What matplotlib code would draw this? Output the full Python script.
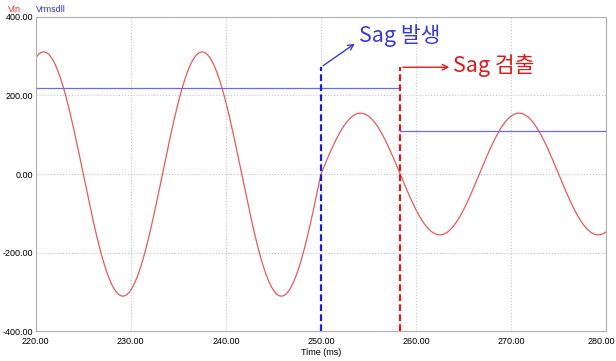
#!/usr/bin/env python3
import numpy as np
import matplotlib.pyplot as plt
from matplotlib.transforms import ScaledTranslation

plt.rcParams["font.family"] = ["Liberation Sans", "Noto Sans CJK KR", "DejaVu Sans"]

# simulation window (ms) and measured values
t_start, t_end = 220.0, 280.0
freq_hz = 60.0
vin_peak_normal = 311.0
vin_peak_sag = 155.0
sag_start_ms = 250.0
sag_detect_ms = 258.33
vrms_normal = 220.0
vrms_sag = 110.0
marker_top = 272.0

x_ticks = [220, 230, 240, 250, 260, 270, 280]
y_ticks = [-400, -200, 0, 200, 400]


def vin_wave(t):
    """Supply voltage: full amplitude until the sag, half after it"""
    amp = np.where(t < sag_start_ms, vin_peak_normal, vin_peak_sag)
    return amp * np.sin(2 * np.pi * freq_hz * (t - sag_start_ms) / 1000.0)


def main():
    fig = plt.figure(figsize=(6.16, 3.61), dpi=100)
    ax = fig.add_axes([0.058, 0.083, 0.926, 0.870])

    t = np.linspace(t_start, t_end, 3000)
    ax.plot(t, vin_wave(t), color="#e85a5a", lw=0.9)

    # rms estimate steps down once the sag is detected
    ax.plot([t_start, sag_detect_ms], [vrms_normal, vrms_normal], color="#6a6af0", lw=0.9)
    ax.plot([sag_detect_ms, t_end], [vrms_sag, vrms_sag], color="#6a6af0", lw=0.9)

    # event markers
    ax.plot([sag_start_ms, sag_start_ms], [-400, marker_top], color="#1a1ae0",
            lw=1.6, ls=(0, (3, 1.5)))
    ax.plot([sag_detect_ms, sag_detect_ms], [-400, marker_top], color="#e01a1a",
            lw=1.6, ls=(0, (3, 1.5)))

    kr = ["Noto Sans CJK KR", "DejaVu Sans"]
    ax.annotate("", xy=(253.8, 336), xytext=(sag_start_ms, marker_top),
                arrowprops=dict(arrowstyle="->", color="#3a3ad8", lw=1.0))
    ax.text(254.0, 352, "Sag 발생", color="#3a3ad8", fontsize=15.5,
            family=kr, va="center", ha="left")

    ax.annotate("", xy=(263.8, marker_top), xytext=(sag_detect_ms, marker_top),
                arrowprops=dict(arrowstyle="->", color="#e01a1a", lw=1.0))
    ax.text(263.9, marker_top + 4, "Sag 검출", color="#e01a1a", fontsize=15.5,
            family=kr, va="center", ha="left")

    ax.set_xlim(t_start, t_end)
    ax.set_ylim(-400, 400)
    ax.set_xticks(x_ticks)
    ax.set_yticks(y_ticks)
    ax.set_xticklabels([f"{v:.2f}" for v in x_ticks], fontsize=6.5)
    ax.set_yticklabels([f"{v:.2f}" for v in y_ticks], fontsize=6.5)
    ax.tick_params(axis="y", length=0, pad=2)
    ax.tick_params(axis="x", length=0, pad=4)

    # nudge the last time label so it stays inside the figure
    last = ax.get_xticklabels()[-1]
    last.set_transform(last.get_transform() + ScaledTranslation(-5 / 100, 0, fig.dpi_scale_trans))

    ax.grid(True, color="#c8c8c8", ls=":", lw=0.8)
    for spine in ax.spines.values():
        spine.set_color("#b0b0b0")
    ax.set_xlabel("Time (ms)", fontsize=6.5, labelpad=2)

    fig.text(0.013, 0.975, "Vin", color="#e83030", fontsize=6.5, va="center")
    fig.text(0.058, 0.975, "Vrmsdll", color="#3030e0", fontsize=6.5, va="center")

    plt.savefig("out.png", dpi=100)
    plt.close()


if __name__ == "__main__":
    main()
